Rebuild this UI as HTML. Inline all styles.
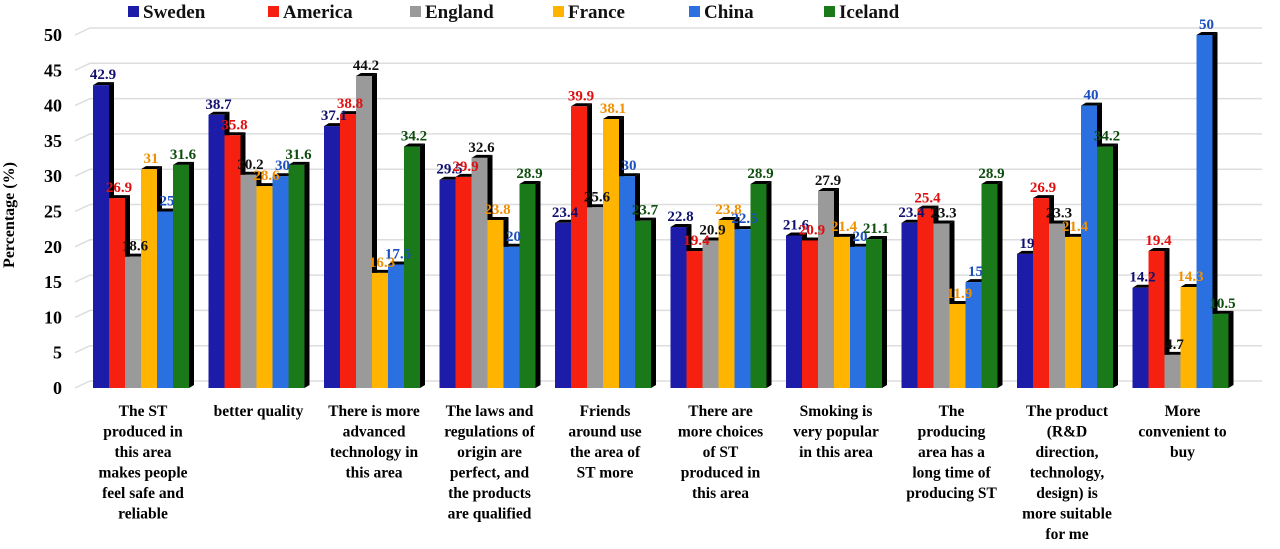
<!DOCTYPE html>
<html><head><meta charset="utf-8"><style>
body{margin:0;background:#fff;}
svg text{font-family:"Liberation Serif",serif;font-weight:bold;}
</style></head><body>
<svg id="chart" width="1280" height="544" xmlns="http://www.w3.org/2000/svg">
<g id="grid"></g><g id="bars"></g><g id="labels"></g><g id="legend"></g>
<text transform="translate(14,215) rotate(-90)" text-anchor="middle" font-size="16">Percentage (%)</text>
</svg>
<script>
const categories=[["The ST","produced in","this area","makes people","feel safe and","reliable"],["better quality"],["There is more","advanced","technology in","this area"],["The laws and","regulations of","origin are","perfect, and","the products","are qualified"],["Friends","around use","the area of","ST more"],["There are","more choices","of ST","produced in","this area"],["Smoking is","very popular","in this area"],["The","producing","area has a","long time of","producing ST"],["The product","(R&D","direction,","technology,","design) is","more suitable","for me"],["More","convenient to","buy"]];
const seriesNames=["Sweden","America","England","France","China","Iceland"];
const sweden=[42.9,38.7,37.1,29.5,23.4,22.8,21.6,23.4,19,14.2];
const america=[26.9,35.8,38.8,29.9,39.9,19.4,20.9,25.4,26.9,19.4];
const england=[18.6,30.2,44.2,32.6,25.6,20.9,27.9,23.3,23.3,4.7];
const france=[31,28.6,16.3,23.8,38.1,23.8,21.4,11.9,21.4,14.3];
const china=[25,30,17.5,20,30,22.5,20,15,40,50];
const iceland=[31.6,31.6,34.2,28.9,23.7,28.9,21.1,28.9,34.2,10.5];
const yTicks=[0,5,10,15,20,25,30,35,40,45,50];
const series=[sweden,america,england,france,china,iceland];
const colors=["#1c1ca8","#f5200f","#9a9a9a","#ffb400","#2a70e0","#1a7a1a"];
const labelColors=["#10106e","#e01010","#111","#f09000","#1a4fc0","#0d4d0d"];
const NS="http://www.w3.org/2000/svg";
const y=v=>388-v*7.06;
const gx=i=>93+i*115.5;
const bw=16;
function mk(tag,attrs,parent){const e=document.createElementNS(NS,tag);for(const k in attrs)e.setAttribute(k,attrs[k]);parent.appendChild(e);return e;}
const grid=document.getElementById('grid'),bars=document.getElementById('bars'),labels=document.getElementById('labels'),legend=document.getElementById('legend');
yTicks.forEach(t=>{
 const l=mk('path',{d:`M75 ${y(t)} L90 ${y(t)-7} L1262 ${y(t)-7}`,stroke:'#ddd',fill:'none','stroke-width':1.5},grid);
 
 
 const tx=mk('text',{x:62,y:y(t)+6,'text-anchor':'end','font-size':18},grid);tx.textContent=t;
 
 
});
categories.forEach((c,i)=>{
 series.forEach((s,j)=>{
  const v=s[i],x=gx(i)+j*bw,top=y(v),h=388-top;
  const sh=mk('path',{d:`M${x+bw} ${top} L${x+bw+5} ${top-3} L${x+bw+5} ${388-3} L${x+bw} 388 Z`,fill:'#000'},bars);
  
  
  const tp=mk('path',{d:`M${x} ${top} L${x+5} ${top-3} L${x+bw+5} ${top-3} L${x+bw} ${top} Z`,fill:'#000'},bars);
  
  
  const r=mk('rect',{x:x,y:top,width:bw,height:h,fill:colors[j]},bars);
  
  
  const t=mk('text',{x:x+bw/2+2,y:top-6,'text-anchor':'middle','font-size':15,fill:labelColors[j]},labels);
  t.textContent=v;
  
  
 });
 const cx=gx(i)+50;
 const ct=mk('text',{'text-anchor':'middle','font-size':15.5,fill:'#000'},labels);
 
 
 c.forEach((line,k)=>{const ts=mk('tspan',{x:cx,y:416+k*20.5},ct);ts.textContent=line;});
});
const lx=[128,268,410,553,689,824];
seriesNames.forEach((n,j)=>{
 const g=mk('g',{},legend);
 
 
 mk('rect',{x:lx[j],y:6,width:11,height:11,fill:colors[j]},g);
 const t=mk('text',{x:lx[j]+15,y:18,'font-size':19,fill:'#111'},g);t.textContent=n;
});
</script>
</body></html>
